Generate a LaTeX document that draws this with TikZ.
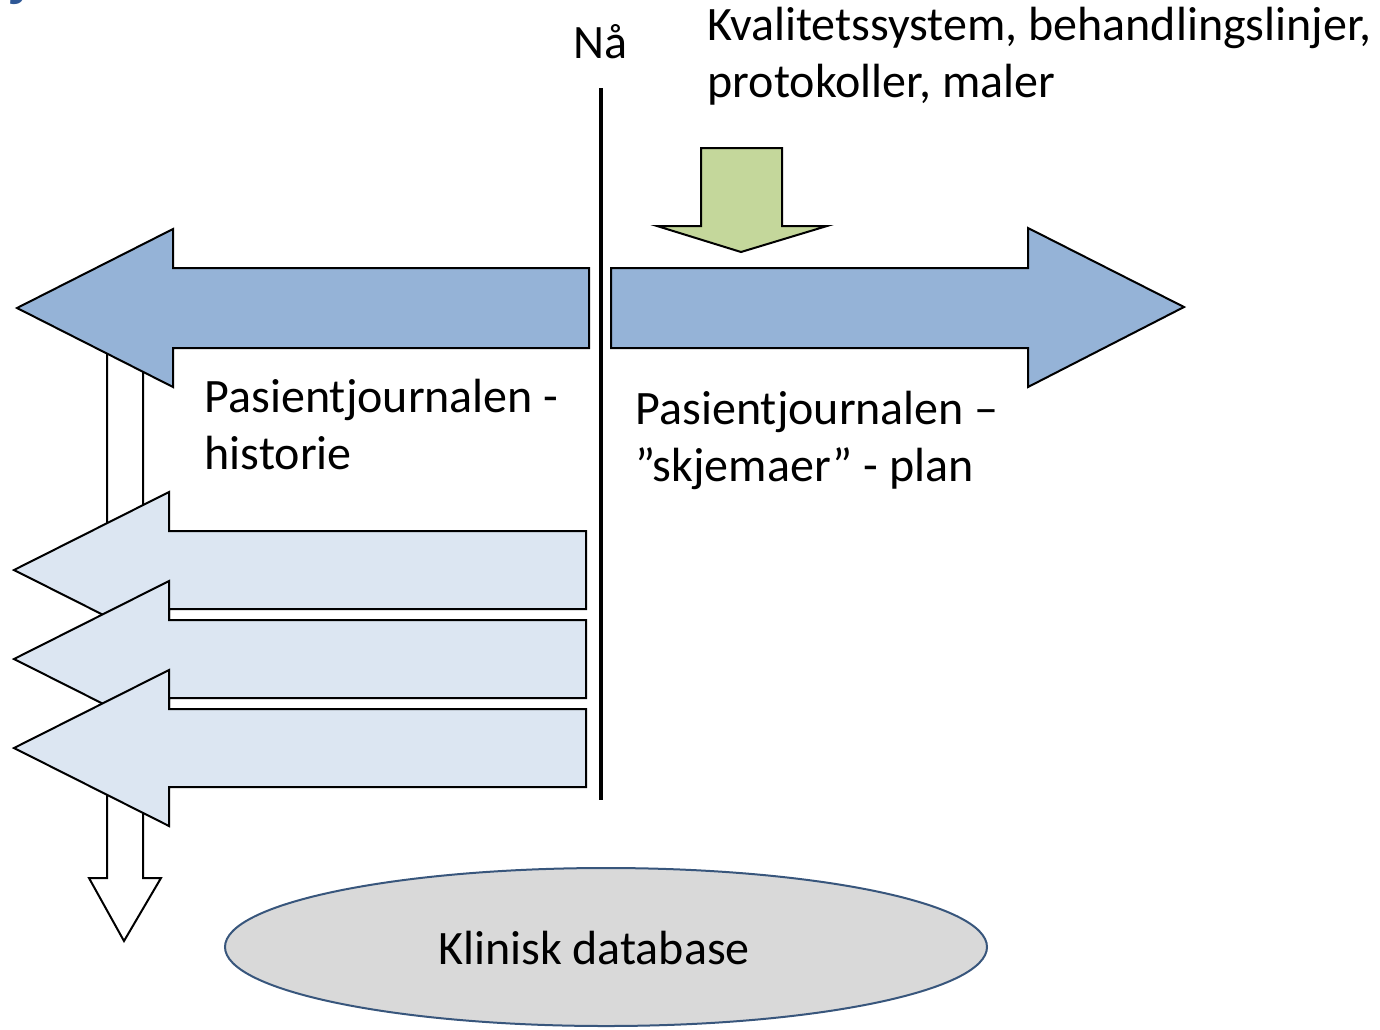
\documentclass[tikz,border=0pt]{standalone}
\usepackage{fontspec}
\setmainfont{Carlito}
\usetikzlibrary{shapes.geometric}

\definecolor{pastblue}{RGB}{149,179,215}
\definecolor{paleblue}{RGB}{220,230,242}
\definecolor{qualgreen}{RGB}{196,215,155}
\definecolor{dbgrey}{RGB}{217,217,217}
\definecolor{dbedge}{RGB}{56,86,124}
\definecolor{titleblue}{RGB}{46,88,150}

\tikzset{every picture/.style={line width=0.75pt}}
\tikzset{
  bigarrow/.style={draw=black, fill=pastblue, line width=1pt, line join=miter},
  oldarrow/.style={draw=black, fill=paleblue, line width=1pt, line join=miter},
  txt/.style={font=\fontsize{24}{28.5}\selectfont, align=left, inner sep=0pt}
}

\begin{document}
\begin{tikzpicture}[x=0.5pt, y=-0.5pt]
\useasboundingbox (0,0) rectangle (1380,1029);

% cut-off title letter
\node[text=titleblue, font=\fontsize{30}{34}\selectfont\bfseries, anchor=base west, inner sep=0pt] (ttl) at (12,-6) {j};

% open arrow down to the database
\draw[fill=white, line width=1pt, line join=miter]
  (107,340) -- (107,878) -- (89,878) -- (124,941) -- (161,878) -- (143,878) -- (143,340) -- cycle;

% history (past) and plan (future)
\draw[bigarrow] (589,268) -- (173,268) -- (173,229) -- (17,308) -- (173,387) -- (173,348) -- (589,348) -- cycle;
\draw[bigarrow] (611,268) -- (1028,268) -- (1028,228) -- (1184,307) -- (1028,387) -- (1028,348) -- (611,348) -- cycle;

% older records
\foreach \yy in {570,659,748}
  \draw[oldarrow] (586,\yy-39) -- (169,\yy-39) -- (169,\yy-78) -- (14,\yy) -- (169,\yy+78) -- (169,\yy+39) -- (586,\yy+39) -- cycle;

% quality system feeding into the plan
\draw[fill=qualgreen, line width=1pt, line join=miter]
  (701,148) -- (782,148) -- (782,226) -- (827,226) -- (741,252) -- (657,226) -- (701,226) -- cycle;

% now
\node[txt, anchor=center] (naa) at (600,42) {Nå};
\draw[line width=1.75pt] (601,88) -- (601,800);

\node[txt, anchor=west] (kval) at (707,56) {Kvalitetssystem, behandlingslinjer,\\protokoller, maler};
\node[txt, anchor=west] (hist) at (204,425) {Pasientjournalen -\\historie};
\node[txt, anchor=west] (plan) at (635,440) {Pasientjournalen –\\”skjemaer” - plan};

\node[draw=dbedge, fill=dbgrey, line width=1pt, ellipse, minimum width=381pt, minimum height=79pt, inner sep=0pt] (db) at (606,947) {};
\node[txt] (dbtext) at (594,948) {Klinisk database};
\end{tikzpicture}
\end{document}
